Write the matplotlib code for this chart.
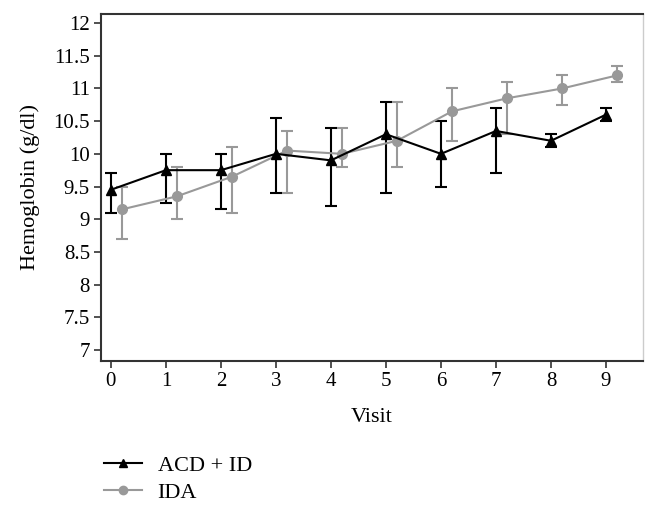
import matplotlib
matplotlib.use("Agg")
import matplotlib.pyplot as plt
from matplotlib.lines import Line2D
import numpy as np

visits = [0, 1, 2, 3, 4, 5, 6, 7, 8, 9]
acd_mean = [9.45, 9.75, 9.75, 10.0, 9.9, 10.3, 10.0, 10.35, 10.2, 10.6]
acd_low = [9.1, 9.25, 9.15, 9.4, 9.2, 9.4, 9.5, 9.7, 10.1, 10.5]
acd_high = [9.7, 10.0, 10.0, 10.55, 10.4, 10.8, 10.5, 10.7, 10.3, 10.7]
ida_mean = [9.15, 9.35, 9.65, 10.05, 10.0, 10.2, 10.65, 10.85, 11.0, 11.2]
ida_low = [8.7, 9.0, 9.1, 9.4, 9.8, 9.8, 10.2, 10.3, 10.75, 11.1]
ida_high = [9.5, 9.8, 10.1, 10.35, 10.4, 10.8, 11.0, 11.1, 11.2, 11.35]
yticks = [7, 7.5, 8, 8.5, 9, 9.5, 10, 10.5, 11, 11.5, 12]
ytick_labels = ["7", "7.5", "8", "8.5", "9", "9.5", "10", "10.5", "11", "11.5", "12"]
labels = ["ACD + ID", "IDA"]

plt.rcParams['font.family'] = ['Liberation Serif', 'DejaVu Serif']

fig = plt.figure(figsize=(6.58, 5.09), dpi=100)
ax = fig.add_axes([0.1535, 0.2908, 0.8235, 0.6817])

x = np.array(visits, dtype=float)
am = np.array(acd_mean); im = np.array(ida_mean)
acd_err = [am - np.array(acd_low), np.array(acd_high) - am]
ida_err = [im - np.array(ida_low), np.array(ida_high) - im]

gray = '#999999'
ax.errorbar(x + 0.2, im, yerr=ida_err, color=gray, ecolor=gray, marker='o',
            markersize=7, lw=1.5, elinewidth=1.5, capsize=4, capthick=1.5)
ax.errorbar(x, am, yerr=acd_err, color='black', ecolor='black', marker='^',
            markersize=7, lw=1.5, elinewidth=1.5, capsize=4, capthick=1.5)

ax.set_xlim(-0.18, 9.67)
ax.set_ylim(6.83, 12.14)
ax.set_xticks(visits)
ax.set_xticklabels([str(v) for v in visits], fontsize=15)
ax.set_yticks(yticks)
ax.set_yticklabels(ytick_labels, fontsize=15)
ax.tick_params(direction='out', length=5, width=1.2, color='#333333', pad=3)

for s in ['left', 'bottom', 'top']:
    ax.spines[s].set_color('#333333')
    ax.spines[s].set_linewidth(1.5)
ax.spines['right'].set_color('#cccccc')
ax.spines['right'].set_linewidth(1.0)

ax.set_xlabel('Visit', fontsize=16, labelpad=12)
ax.set_ylabel('Hemoglobin (g/dl)', fontsize=16, labelpad=10)

h1 = Line2D([], [], color='black', marker='^', markersize=6, lw=1.5)
h2 = Line2D([], [], color=gray, marker='o', markersize=6, lw=1.5)
fig.legend([h1, h2], labels, loc='upper left', bbox_to_anchor=(0.145, 0.123),
           frameon=False, fontsize=16, handlelength=1.7, handletextpad=0.7,
           labelspacing=0.3, borderaxespad=0)

fig.savefig('out.png', dpi=100)
